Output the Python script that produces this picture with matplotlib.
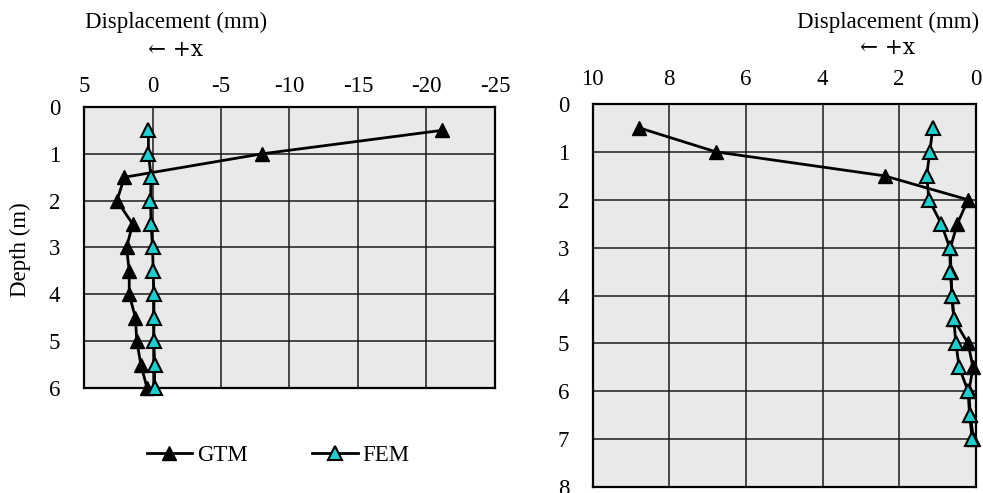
import numpy as np
import matplotlib
matplotlib.use("Agg")
import matplotlib.pyplot as plt

plt.rcParams['font.family'] = ['Liberation Serif', 'DejaVu Serif']
plt.rcParams['axes.unicode_minus'] = False

# left panel (depth to 6 m)
depth_left = [0.5, 1.0, 1.5, 2.0, 2.5, 3.0, 3.5, 4.0, 4.5, 5.0, 5.5, 6.0]
gtm_left = [-21.1, -8.0, 2.05, 2.6, 1.45, 1.9, 1.7, 1.7, 1.25, 1.15, 0.85, 0.4]
fem_left = [0.3, 0.3, 0.1, 0.15, 0.1, 0.0, -0.05, -0.1, -0.1, -0.1, -0.15, -0.15]

# right panel (depth to 7 m)
depth_right = [0.5, 1.0, 1.5, 2.0, 2.5, 3.0, 3.5, 4.0, 4.5, 5.0, 5.5, 6.0, 6.5, 7.0]
gtm_right = [8.78, 6.78, 2.38, 0.2, 0.48, 0.66, 0.65, 0.62, 0.57, 0.2, 0.07, 0.18, 0.14, 0.06]
fem_right = [1.12, 1.2, 1.28, 1.22, 0.9, 0.68, 0.66, 0.62, 0.57, 0.52, 0.43, 0.2, 0.16, 0.09]

xticks_left = [5, 0, -5, -10, -15, -20, -25]
xticks_right = [10, 8, 6, 4, 2, 0]

fig = plt.figure(figsize=(9.83, 4.93), dpi=100)
ax1 = fig.add_axes([0.0855, 0.213, 0.418, 0.570])
ax2 = fig.add_axes([0.603, 0.012, 0.3896, 0.777])

fs = 16.5
cyan = '#1ccfcf'


def style(ax, xt, xlim, ymax, xpad, ypad):
    ax.set_facecolor('#e9e9e9')
    ax.set_xlim(*xlim)
    ax.set_ylim(ymax, 0)
    ax.set_xticks(xt)
    ax.set_yticks(range(0, ymax + 1))
    ax.xaxis.tick_top()
    ax.tick_params(axis='x', length=0, pad=xpad, labelsize=fs)
    ax.tick_params(axis='y', length=0, pad=ypad, labelsize=fs)
    ax.grid(True, color='#1a1a1a', linewidth=1.1)
    ax.set_axisbelow(True)
    for s in ax.spines.values():
        s.set_linewidth(1.6)
        s.set_color('black')


def draw(ax, d, g, f):
    l1, = ax.plot(g, d, color='black', lw=2, marker='^', ms=9.5,
                  mfc='black', mec='black', label='GTM', clip_on=False, zorder=3)
    l2, = ax.plot(f, d, color='black', lw=2, marker='^', ms=9.5,
                  mfc=cyan, mec='black', mew=1.5, label='FEM', clip_on=False, zorder=4)
    return l1, l2


style(ax1, xticks_left, (5, -25), 6, 7, 17)
style(ax2, xticks_right, (10, 0), 8, 10, 17)
h1, h2 = draw(ax1, depth_left, gtm_left, fem_left)
draw(ax2, depth_right, gtm_right, fem_right)

fig.text(176 / 983, 1 - 22 / 493, 'Displacement (mm)', ha='center', va='center', fontsize=fs)
fig.text(176 / 983, 1 - 50 / 493, '\u2190 +x', ha='center', va='center', fontsize=fs - 1,
         family=['DejaVu Serif'])
fig.text(888 / 983, 1 - 22 / 493, 'Displacement (mm)', ha='center', va='center', fontsize=fs)
fig.text(888 / 983, 1 - 48 / 493, '\u2190 +x', ha='center', va='center', fontsize=fs - 1,
         family=['DejaVu Serif'])
fig.text(20 / 983, 1 - 250 / 493, 'Depth (m)', ha='center', va='center', rotation=90, fontsize=fs)

fig.legend([h1, h2], ['GTM', 'FEM'], loc='center', bbox_to_anchor=(278 / 983, 1 - 455 / 493),
           ncol=2, frameon=False, fontsize=fs, handlelength=2.0, handletextpad=0.2,
           columnspacing=2.8)

fig.savefig('out.png', dpi=100, facecolor='white')
